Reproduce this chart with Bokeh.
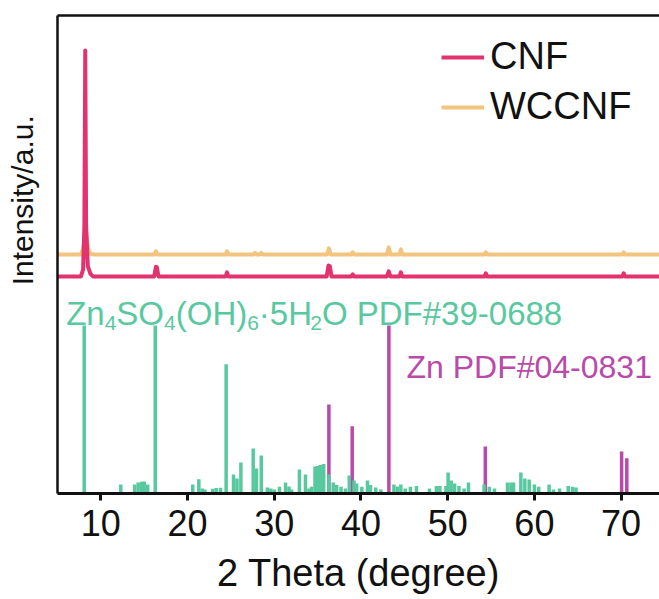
from bokeh.plotting import figure
from bokeh.models import Range1d, FixedTicker, LinearAxis, Legend, LegendItem
from bokeh.embed import file_html
from bokeh.resources import INLINE
from bokeh.core.properties import value

# ---------------- data ----------------
x_ticks = [10, 20, 30, 40, 50, 60, 70]

# measured patterns (2theta, intensity above own baseline, a.u.)
cnf_2theta = [5.0, 7.7, 7.95, 8.1, 8.2, 8.3, 8.5, 8.8, 9.1,
              16.15, 16.35, 16.45, 16.65,
              24.4, 24.55, 24.7,
              36.05, 36.25, 36.4, 36.6,
              38.9, 39.05, 39.2,
              43.0, 43.2, 43.4,
              44.45, 44.6, 44.75,
              54.25, 54.4, 54.55,
              70.15, 70.3, 70.45, 74.5]
cnf_int = [0, 0, 4, 30, 134.5, 30, 6, 1.5, 0,
           0, 5.7, 5.5, 0,
           0, 2.4, 0,
           0, 6.5, 6.2, 0,
           0, 1.2, 0,
           0, 3.0, 0,
           0, 2.4, 0,
           0, 1.8, 0,
           0, 1.8, 0, 0]

wccnf_2theta = [5.0, 7.7, 7.95, 8.1, 8.25, 8.4, 8.55, 8.8, 9.1,
                16.2, 16.35, 16.5,
                24.4, 24.55, 24.7,
                27.65, 27.8, 27.95, 28.35, 28.5, 28.65,
                36.1, 36.3, 36.5,
                38.9, 39.05, 39.2,
                43.0, 43.2, 43.4,
                44.45, 44.6, 44.75,
                54.25, 54.4, 54.55,
                70.15, 70.3, 70.45, 74.5]
wccnf_int = [0, 0, 3, 8, 15.5, 8, 3, 0.5, 0,
             0, 1.8, 0,
             0, 1.8, 0,
             0, 0.9, 0, 0, 0.9, 0,
             0, 3.6, 0,
             0, 1.2, 0,
             0, 4.2, 0,
             0, 3.0, 0,
             0, 1.2, 0,
             0, 1.2, 0, 0]

cnf_offset = 129.2
wccnf_offset = 142.3

# reference: Zn4SO4(OH)6.5H2O PDF#39-0688
zhs_2theta = [8.08, 12.3, 13.9, 14.3, 14.7, 15.0, 15.4, 16.27, 20.6, 21.3, 21.7, 22.0,
              22.9, 23.3, 23.8, 24.45, 25.3, 25.7, 26.15, 27.57, 27.95, 28.5,
              29.2, 29.6, 30.0, 30.6, 31.3, 31.7, 32.0, 32.9, 33.6, 34.0, 34.3,
              34.7, 35.0, 35.3, 35.7, 36.3, 36.8, 37.2, 37.7, 38.2, 38.65, 39.2, 39.5,
              40.1, 40.75, 41.1, 41.7, 42.3, 43.8, 44.2, 44.6, 45.1, 45.7, 46.4,
              47.9, 48.7, 49.1, 49.8, 50.05, 50.4, 50.8, 51.3, 51.9, 52.4,
              54.2, 54.8, 55.4, 56.9, 57.3, 57.6, 58.44, 58.9, 59.4, 60.0, 60.5,
              61.7, 62.2, 62.9, 63.9, 64.4, 64.8]
zhs_int = [100, 5.4, 5.4, 6.5, 7.0, 7.2, 5.4, 100, 5.4, 8.5, 3.0, 2.4,
           2.8, 3.2, 3.4, 77, 11.3, 8.9, 18.5, 26.8, 14.9, 22.6,
           3.6, 3.0, 2.4, 4.0, 6.5, 4.2, 2.4, 14.3, 11.3, 3.0, 4.0,
           16.0, 16.3, 16.9, 17.5, 11.3, 6.5, 5.0, 4.0, 3.0, 10.7, 7.7, 6.0,
           4.0, 7.7, 5.0, 3.6, 2.4, 5.4, 4.2, 5.4, 3.0, 4.0, 4.4,
           3.0, 4.4, 4.4, 4.4, 12.5, 7.7, 6.0, 4.4, 3.0, 6.5,
           5.4, 4.0, 3.0, 6.5, 6.5, 6.5, 12.5, 8.9, 8.3, 5.4, 4.0,
           5.4, 2.4, 3.0, 4.4, 4.0, 3.6]

# reference: Zn PDF#04-0831
zn_2theta = [36.30, 38.99, 43.22, 54.34, 70.06, 70.66]
zn_int = [53, 40, 100, 28, 25, 21]

# ---------------- styles ----------------
FONT = "Liberation Sans"
C_CNF = "#E2336E"
C_WCCNF = "#F2C47E"
C_ZHS = "#58C99F"
C_ZN = "#BA4AAA"
C_TXT = "#111111"

p = figure(width=659, height=599, output_backend="svg", toolbar_location=None,
           x_range=Range1d(5, 74.43), y_range=Range1d(0, 284.5),
           min_border_left=57, min_border_right=0, min_border_top=15, min_border_bottom=106)
p.outline_line_color = None
p.grid.visible = False
p.background_fill_color = "white"
p.border_fill_color = "white"

# bottom axis
xa = p.xaxis[0]
xa.ticker = FixedTicker(ticks=x_ticks)
xa.axis_line_width = 3
xa.axis_line_color = C_TXT
xa.major_tick_line_width = 3
xa.major_tick_line_color = C_TXT
xa.major_tick_out = 7
xa.major_tick_in = 0
xa.minor_tick_line_color = None
xa.major_label_text_font = FONT
xa.major_label_text_font_size = "36px"
xa.major_label_text_color = C_TXT
xa.major_label_standoff = 9
xa.axis_label = "2 Theta (degree)"
xa.axis_label_text_font = FONT
xa.axis_label_text_font_size = "38px"
xa.axis_label_text_font_style = "normal"
xa.axis_label_text_color = C_TXT
xa.axis_label_standoff = 13

# left axis: line + title (title padded with no-break spaces to sit above centre)
ya = p.yaxis[0]
ya.ticker = FixedTicker(ticks=[])
ya.axis_line_width = 2.5
ya.axis_line_color = C_TXT
ya.major_tick_out = 0
ya.major_tick_in = 0
ya.minor_tick_line_color = None
ya.major_label_standoff = 0
ya.major_label_text_font_size = "0px"
ya.axis_label = "\u00a0" * 13 + "Intensity/a.u."
ya.axis_label_text_font = FONT
ya.axis_label_text_font_size = "30px"
ya.axis_label_text_font_style = "normal"
ya.axis_label_text_color = C_TXT
ya.axis_label_standoff = 19

# top border
top_axis = LinearAxis(ticker=FixedTicker(ticks=[]), axis_line_width=2.5, axis_line_color=C_TXT,
                      major_tick_out=0, major_tick_in=0, minor_tick_line_color=None,
                      major_label_standoff=0, major_label_text_font_size="0px")
p.add_layout(top_axis, "above")

# reference bars
p.segment(x0=zn_2theta, y0=[0] * len(zn_2theta), x1=zn_2theta, y1=zn_int,
          line_color=C_ZN, line_width=3.5)
p.segment(x0=zhs_2theta, y0=[0] * len(zhs_2theta), x1=zhs_2theta, y1=zhs_int,
          line_color=C_ZHS, line_width=3.5)

# measured patterns
r_w = p.line(wccnf_2theta, [v + wccnf_offset for v in wccnf_int], line_color=C_WCCNF,
             line_width=4, line_join="round")
r_c = p.line(cnf_2theta, [v + cnf_offset for v in cnf_int], line_color=C_CNF,
             line_width=4, line_join="round")

# labels
p.text(x=[45.25], y=[75], text=["Zn PDF#04-0831"], text_font=value(FONT),
       text_font_size="32px", text_color=C_ZN, text_baseline="alphabetic", text_align="left")

W = {"Z": 611, "n": 556, "S": 667, "O": 778, "(": 333, ")": 333, "H": 722, "\u00b7": 278,
     " ": 278, "P": 667, "D": 722, "F": 611, "#": 556, "-": 333}
for d in "0123456789":
    W[d] = 556
segments = [("Zn", False), ("4", True), ("SO", False), ("4", True), ("(OH)", False),
            ("6", True), ("\u00b75H", False), ("2", True), ("O PDF#39-0688", False)]
F_MAIN, F_SUB = 33, 21
off = 0.0
for txt, sub in segments:
    fs = F_SUB if sub else F_MAIN
    p.text(x=[6.0], y=[107.1], text=[txt], x_offset=off, y_offset=9 if sub else 0,
           text_font=value(FONT), text_font_size=f"{fs}px", text_color=C_ZHS,
           text_baseline="alphabetic", text_align="left")
    off += sum(W[ch] for ch in txt) * fs / 1000.0

legend = Legend(items=[LegendItem(label="CNF", renderers=[r_c]),
                       LegendItem(label="WCCNF", renderers=[r_w])],
                location=(384, 365), label_text_font=FONT, label_text_font_size="38px",
                label_text_color=C_TXT, glyph_width=43, glyph_height=20, label_standoff=6,
                spacing=7, padding=0, margin=0, border_line_color=None,
                background_fill_alpha=0)
p.add_layout(legend)

open("out.html", "w").write(file_html(p, INLINE))
